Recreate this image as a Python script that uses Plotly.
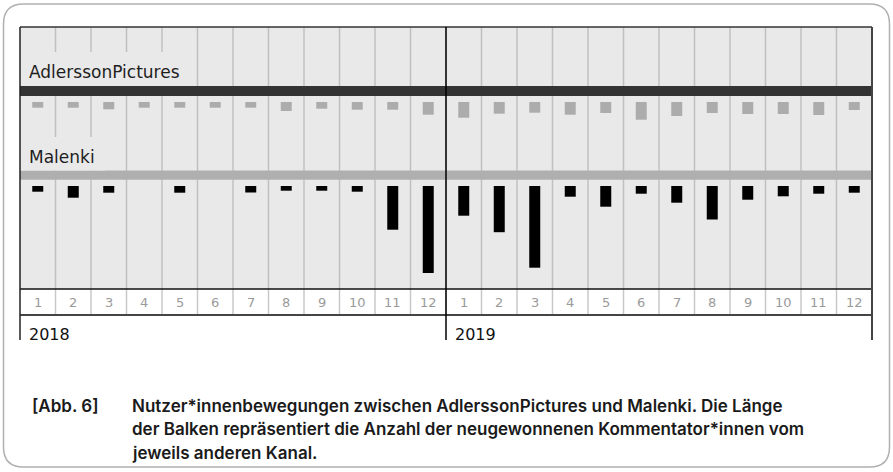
import plotly.graph_objects as go

# ---------------- data ----------------
years = ["2018", "2019"]
month_labels = ["1", "2", "3", "4", "5", "6", "7", "8", "9", "10", "11", "12"]
channel_top = "AdlerssonPictures"
channel_bottom = "Malenki"

# bar lengths (new commenters from the other channel, arbitrary units)
adlersson_values = [5.7, 5.7, 7.3, 5.7, 5.7, 5.7, 5.7, 9.0, 6.7, 7.7, 7.7, 12.7,
                    15.7, 11.7, 10.7, 12.7, 11.0, 17.7, 14.0, 11.0, 12.0, 12.0, 13.0, 8.0]
malenki_values = [5.7, 11.7, 6.7, 0.0, 6.7, 0.0, 6.5, 4.7, 4.7, 5.7, 43.7, 87.0,
                  29.7, 46.2, 81.7, 10.7, 20.7, 7.7, 16.7, 33.5, 13.7, 10.3, 7.7, 6.7]

caption_tag = "[Abb. 6]"
caption_lines = [
    "Nutzer*innenbewegungen zwischen AdlerssonPictures und Malenki. Die Länge",
    "der Balken repräsentiert die Anzahl der neugewonnenen Kommentator*innen vom",
    "jeweils anderen Kanal.",
]

categories = [f"{y}-{m}" for y in years for m in month_labels]
n = len(categories)

# ---------------- geometry helpers (layout only) ----------------
W, H = 893, 472
L, R, T, B = 20, 872, 27, 289
PW, PH = R - L, B - T


def px(x):
    return (x - L) / PW


def py(y):
    return (B - y) / PH


LABEL_FONT = "'DejaVu Sans', sans-serif"
CAPTION_FONT = "Inter, 'Noto Sans', Roboto, sans-serif"
BG = "#e9e9e9"

fig = go.Figure()
fig.add_trace(go.Bar(
    x=categories, y=adlersson_values, width=0.31, xaxis="x", yaxis="y",
    marker=dict(color="#acacac", line=dict(width=0)), hoverinfo="skip", showlegend=False,
))
fig.add_trace(go.Bar(
    x=categories, y=malenki_values, width=0.31, xaxis="x", yaxis="y2",
    marker=dict(color="#000000", line=dict(width=0)), hoverinfo="skip", showlegend=False,
))

shapes = []
# full panel background
shapes.append(dict(type="rect", xref="paper", yref="paper", x0=0, x1=1, y0=0, y1=1,
                   fillcolor=BG, line=dict(width=0), layer="below"))
# vertical grid lines inside the panel
for i in range(n - 1):
    shapes.append(dict(type="line", xref="x", yref="paper", x0=i + 0.5, x1=i + 0.5,
                       y0=0, y1=1, line=dict(color="#c0c0c0", width=1.5), layer="below"))
# bands
shapes.append(dict(type="rect", xref="paper", yref="paper", x0=0, x1=1, y0=py(96), y1=py(86),
                   fillcolor="#333333", line=dict(width=0), layer="below"))
shapes.append(dict(type="rect", xref="paper", yref="paper", x0=0, x1=1, y0=py(179.7), y1=py(170.5),
                   fillcolor="#afafaf", line=dict(width=0), layer="below"))
# label covers
shapes.append(dict(type="rect", xref="paper", yref="paper", x0=0.001, x1=px(190), y0=py(86), y1=py(52),
                   fillcolor=BG, line=dict(width=0), layer="below"))
shapes.append(dict(type="rect", xref="paper", yref="paper", x0=0.001, x1=px(105), y0=py(170.5), y1=py(137),
                   fillcolor=BG, line=dict(width=0), layer="below"))
# month row separators
for i in range(n - 1):
    shapes.append(dict(type="line", xref="x", yref="paper", x0=i + 0.5, x1=i + 0.5,
                       y0=py(315), y1=0, line=dict(color="#c8c8c8", width=1.5), layer="above"))
# month row borders
shapes.append(dict(type="line", xref="paper", yref="paper", x0=0, x1=1, y0=0, y1=0,
                   line=dict(color="#111111", width=1.5), layer="above"))
shapes.append(dict(type="line", xref="paper", yref="paper", x0=0, x1=1, y0=py(315), y1=py(315),
                   line=dict(color="#444444", width=2), layer="above"))
# outer borders of the chart
shapes.append(dict(type="line", xref="paper", yref="paper", x0=0, x1=1, y0=1, y1=1,
                   line=dict(color="#333333", width=1.5), layer="above"))
shapes.append(dict(type="line", xref="paper", yref="paper", x0=0, x1=0, y0=py(340), y1=1,
                   line=dict(color="#222222", width=1.5), layer="above"))
shapes.append(dict(type="line", xref="paper", yref="paper", x0=1, x1=1, y0=py(340), y1=1,
                   line=dict(color="#444444", width=2), layer="above"))
# year divider
shapes.append(dict(type="line", xref="x", yref="paper", x0=len(month_labels) - 0.5, x1=len(month_labels) - 0.5,
                   y0=py(340), y1=1, line=dict(color="#000000", width=1.5), layer="above"))

# rounded outer frame
x0, x1 = px(3.5), px(889.5)
yt, yb = py(4), py(467)
rx, ry = 20 / PW, 20 / PH
path = (f"M {x0+rx},{yt} L {x1-rx},{yt} Q {x1},{yt} {x1},{yt-ry} "
        f"L {x1},{yb+ry} Q {x1},{yb} {x1-rx},{yb} L {x0+rx},{yb} "
        f"Q {x0},{yb} {x0},{yb+ry} L {x0},{yt-ry} Q {x0},{yt} {x0+rx},{yt} Z")
shapes.append(dict(type="path", xref="paper", yref="paper", path=path,
                   line=dict(color="#b0b0b0", width=1.5), fillcolor="rgba(0,0,0,0)", layer="below"))

annotations = []
annotations.append(dict(text=channel_top, xref="paper", yref="paper", x=px(27), y=py(71.5),
                        xanchor="left", yanchor="middle", showarrow=False,
                        font=dict(family=LABEL_FONT, size=17, color="#1e1e1e")))
annotations.append(dict(text=channel_bottom, xref="paper", yref="paper", x=px(27), y=py(157),
                        xanchor="left", yanchor="middle", showarrow=False,
                        font=dict(family=LABEL_FONT, size=17, color="#1e1e1e")))
for i, c in enumerate(categories):
    annotations.append(dict(text=month_labels[i % len(month_labels)], xref="x", yref="paper",
                            x=i, y=py(302), xanchor="center", yanchor="middle", showarrow=False,
                            font=dict(family=LABEL_FONT, size=13, color="#9a9a9a")))
for j, yr in enumerate(years):
    annotations.append(dict(text=yr, xref="x", yref="paper", x=j * len(month_labels) - 0.5,
                            y=py(334), xanchor="left", yanchor="middle", xshift=7, showarrow=False,
                            font=dict(family=LABEL_FONT, size=16, color="#111111")))
annotations.append(dict(text=caption_tag, xref="paper", yref="paper", x=px(30), y=py(406),
                        xanchor="left", yanchor="middle", showarrow=False,
                        font=dict(family=CAPTION_FONT, size=17, color="#1a1a1a", weight=600)))
for k, line in enumerate(caption_lines):
    annotations.append(dict(text=line, xref="paper", yref="paper", x=px(130), y=py(406 + 23.3 * k),
                            xanchor="left", yanchor="middle", showarrow=False,
                            font=dict(family=CAPTION_FONT, size=17, color="#1a1a1a", weight=600)))

fig.update_layout(
    width=W, height=H,
    margin=dict(l=L, r=W - R, t=T, b=H - B, pad=0),
    paper_bgcolor="#ffffff", plot_bgcolor=BG,
    barmode="overlay", showlegend=False,
    xaxis=dict(type="category", range=[-0.5, n - 0.5], visible=False, fixedrange=True),
    yaxis=dict(domain=[py(170), py(102)], range=[68, 0], visible=False, anchor="x"),
    yaxis2=dict(domain=[0, py(186)], range=[103, 0], visible=False, anchor="x"),
    shapes=shapes, annotations=annotations,
    font=dict(family=LABEL_FONT),
)

fig.write_html(
    "out.html",
    config={"displayModeBar": False},
    post_script="document.body.style.margin='0';document.body.style.padding='0';",
)
